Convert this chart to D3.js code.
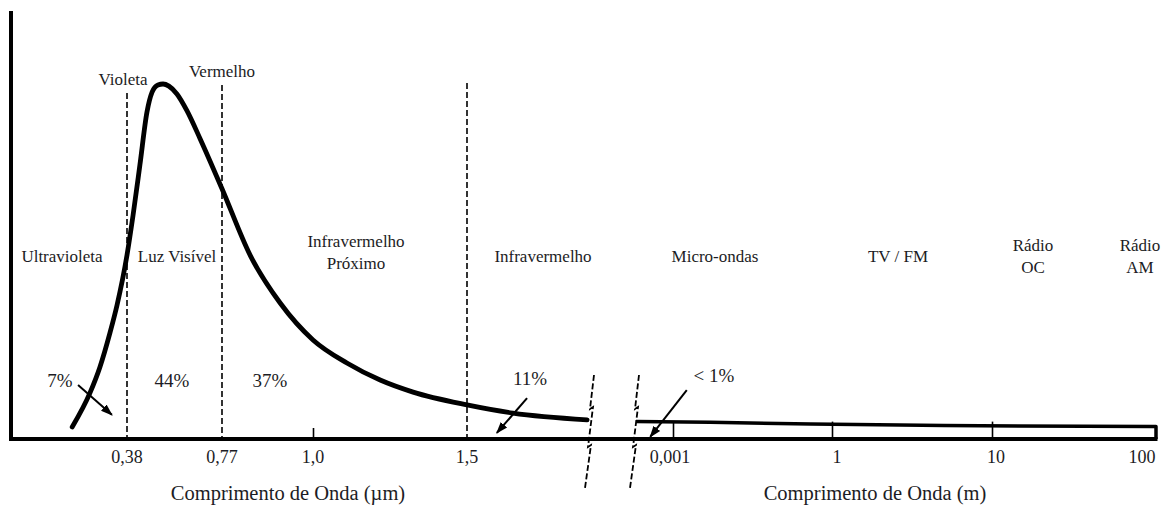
<!DOCTYPE html>
<html>
<head>
<meta charset="utf-8">
<script src="https://cdn.jsdelivr.net/npm/d3@7"></script>
<style>
  html, body { margin: 0; padding: 0; background: #fff; }
  svg { display: block; }
  text { font-family: "Liberation Serif", "Times New Roman", serif; fill: #1c1c24; }
</style>
</head>
<body>
<svg id="chart" width="1164" height="510"></svg>
<script>
// Solar spectrum, near part (wavelength in µm) – relative irradiance
const nearWavelength = [0.155, 0.228, 0.269, 0.31, 0.339, 0.38, 0.405, 0.433, 0.462, 0.483, 0.507, 0.528, 0.552, 0.585, 0.626, 0.68, 0.77, 0.841, 0.917, 1.0, 1.11, 1.218, 1.325, 1.5, 1.649, 1.89];
const nearIntensity  = [0.034, 0.13, 0.203, 0.299, 0.377, 0.518, 0.631, 0.772, 0.921, 0.977, 0.997, 1.0, 0.994, 0.972, 0.925, 0.846, 0.705, 0.518, 0.383, 0.279, 0.214, 0.166, 0.132, 0.096, 0.073, 0.054];

// Far part (log10 of wavelength in m) – relative irradiance
const farLogWavelength = [-3.7, -2.3, -0.4, 0.7, 2.0];
const farIntensity     = [0.049, 0.047, 0.042, 0.038, 0.035];

// Tick values and labels
const nearTicks = [0.38, 0.77, 1.0, 1.5];
const nearTickLabels = ["0,38", "0,77", "1,0", "1,5"];
const nearDashed = [0.38, 0.77, 1.5];
const farTicks = [-3, 0, 1, 2];
const farTickLabels = ["0,001", "1", "10", "100"];

// Region names
const regionNames = [
  { lines: ["Ultravioleta"], x: 62, y: 262 },
  { lines: ["Luz Visível"], x: 177, y: 262 },
  { lines: ["Infravermelho", "Próximo"], x: 356, y: 247 },
  { lines: ["Infravermelho"], x: 543, y: 262 },
  { lines: ["Micro-ondas"], x: 715, y: 262 },
  { lines: ["TV / FM"], x: 898, y: 262 },
  { lines: ["Rádio", "OC"], x: 1033, y: 251 },
  { lines: ["Rádio", "AM"], x: 1140, y: 251 }
];

// Energy shares with their arrows: label position and arrow (from -> to) in data units
const shareLabels = ["7%", "44%", "37%", "11%", "< 1%"];
const sharePos = [[60, 387], [172, 387], [270, 387], [530, 385], [714, 382]];
const nearArrows = [
  { from: [0.179, 0.152], to: [0.318, 0.068] },
  { from: [1.695, 0.115], to: [1.597, 0.017] }
];
const farArrows = [
  { from: [-2.74, 0.138], to: [-3.43, 0.006] }
];

const svg = d3.select("#chart");

// Piecewise (schematic) scales
const xNear = d3.scaleLinear().domain(nearTicks).range([127, 222, 313, 467]);
const xFar = d3.scaleLinear().domain(farTicks).range([673, 832, 992, 1153]);
const y = d3.scaleLinear().domain([0, 1]).range([439, 84]);

const ink = "#000";

// Dashed boundaries of the visible band and near infrared
svg.append("g").selectAll("line").data(nearDashed).join("line")
  .attr("x1", d => xNear(d)).attr("x2", d => xNear(d))
  .attr("y1", (d, i) => [93, 85, 83][i]).attr("y2", y(0))
  .attr("stroke", ink).attr("stroke-width", 1.6)
  .attr("stroke-dasharray", "6,3");

// Near curve
const line = d3.line().curve(d3.curveMonotoneX);
const nearPts = nearWavelength.map((w, i) => [xNear(w), y(nearIntensity[i])]);
svg.append("path").attr("d", line(nearPts))
  .attr("fill", "none").attr("stroke", ink).attr("stroke-width", 4.8)
  .attr("stroke-linecap", "round").attr("stroke-linejoin", "round");

// Far tail, closed on the right down to the axis
const farPts = farLogWavelength.map((w, i) => [xFar(w), y(farIntensity[i])]);
const lastFar = farLogWavelength[farLogWavelength.length - 1];
farPts.push([xFar(lastFar) + 3, y(farIntensity[farIntensity.length - 1])]);
farPts.push([xFar(lastFar) + 3, y(0)]);
svg.append("path").attr("d", d3.line()(farPts))
  .attr("fill", "none").attr("stroke", ink).attr("stroke-width", 3.5)
  .attr("stroke-linejoin", "round");

// Axes
const nearAxis = d3.axisBottom(xNear).tickValues([1.0]).tickSizeInner(-11).tickSizeOuter(0).tickFormat(() => "");
svg.append("g").attr("transform", `translate(0,${y(0)})`).call(nearAxis)
  .call(g => g.select(".domain").remove())
  .call(g => g.selectAll(".tick line").attr("stroke", ink).attr("stroke-width", 1.6));

const farAxis = d3.axisBottom(xFar).tickValues([-3, 0, 1]).tickSizeInner(-(y(0) - y(farIntensity[0]))).tickSizeOuter(0).tickFormat(() => "");
svg.append("g").attr("transform", `translate(0,${y(0)})`).call(farAxis)
  .call(g => g.select(".domain").remove())
  .call(g => g.selectAll(".tick line").attr("stroke", ink).attr("stroke-width", 1.6));

// Tick labels
svg.append("g").selectAll("text").data(nearTicks).join("text")
  .attr("x", d => xNear(d)).attr("y", 463)
  .attr("text-anchor", "middle").attr("font-size", 18)
  .text((d, i) => nearTickLabels[i]);
svg.append("g").selectAll("text").data(farTicks).join("text")
  .attr("x", (d, i) => xFar(d) + [-3, 5, 4, -11][i]).attr("y", 463)
  .attr("text-anchor", "middle").attr("font-size", 18)
  .text((d, i) => farTickLabels[i]);

// Baseline and vertical axis
svg.append("line").attr("x1", 9).attr("x2", xFar(lastFar) + 4.5)
  .attr("y1", y(0)).attr("y2", y(0)).attr("stroke", ink).attr("stroke-width", 4);
svg.append("line").attr("x1", 11).attr("x2", 11).attr("y1", 11).attr("y2", y(0) + 2)
  .attr("stroke", ink).attr("stroke-width", 4);

// Axis break marks
const breakX = [589, 634];
svg.append("g").selectAll("path").data(breakX).join("path")
  .attr("d", x => `M${x + 5},375 L${x + 1},409 L${x + 4},407 L${x - 1},447 L${x + 2},445 L${x - 4},488`)
  .attr("fill", "none").attr("stroke", ink).attr("stroke-width", 1.8)
  .attr("stroke-dasharray", "6,2.5");

// Arrows
const defs = svg.append("defs");
defs.append("marker").attr("id", "head").attr("viewBox", "0 0 10 10")
  .attr("refX", 9).attr("refY", 5).attr("markerWidth", 6).attr("markerHeight", 6)
  .attr("orient", "auto").attr("markerUnits", "strokeWidth")
  .append("path").attr("d", "M0,1.5 L10,5 L0,8.5 Z").attr("fill", ink);

const arrowData = nearArrows.map(a => [[xNear(a.from[0]), y(a.from[1])], [xNear(a.to[0]), y(a.to[1])]])
  .concat(farArrows.map(a => [[xFar(a.from[0]), y(a.from[1])], [xFar(a.to[0]), y(a.to[1])]]));
svg.append("g").selectAll("line").data(arrowData).join("line")
  .attr("x1", d => d[0][0]).attr("y1", d => d[0][1])
  .attr("x2", d => d[1][0]).attr("y2", d => d[1][1])
  .attr("stroke", ink).attr("stroke-width", 2)
  .attr("marker-end", "url(#head)");

// Share labels
svg.append("g").selectAll("text").data(shareLabels).join("text")
  .attr("x", (d, i) => sharePos[i][0]).attr("y", (d, i) => sharePos[i][1])
  .attr("text-anchor", "middle").attr("font-size", 19)
  .text(d => d);

// Region labels
const reg = svg.append("g").selectAll("text").data(regionNames).join("text")
  .attr("x", d => d.x).attr("y", d => d.y)
  .attr("text-anchor", "middle").attr("font-size", 17);
reg.selectAll("tspan").data(d => d.lines.map(l => ({ l, x: d.x }))).join("tspan")
  .attr("x", d => d.x).attr("dy", (d, i) => i === 0 ? 0 : 22)
  .text(d => d.l);

// Band edge names
svg.append("text").attr("x", 123).attr("y", 85).attr("text-anchor", "middle").attr("font-size", 17).text("Violeta");
svg.append("text").attr("x", 222).attr("y", 77).attr("text-anchor", "middle").attr("font-size", 17).text("Vermelho");

// Axis titles
svg.append("text").attr("x", 288).attr("y", 500).attr("text-anchor", "middle").attr("font-size", 20.5).text("Comprimento de Onda (µm)");
svg.append("text").attr("x", 875).attr("y", 500).attr("text-anchor", "middle").attr("font-size", 20.5).text("Comprimento de Onda (m)");
</script>
</body>
</html>
